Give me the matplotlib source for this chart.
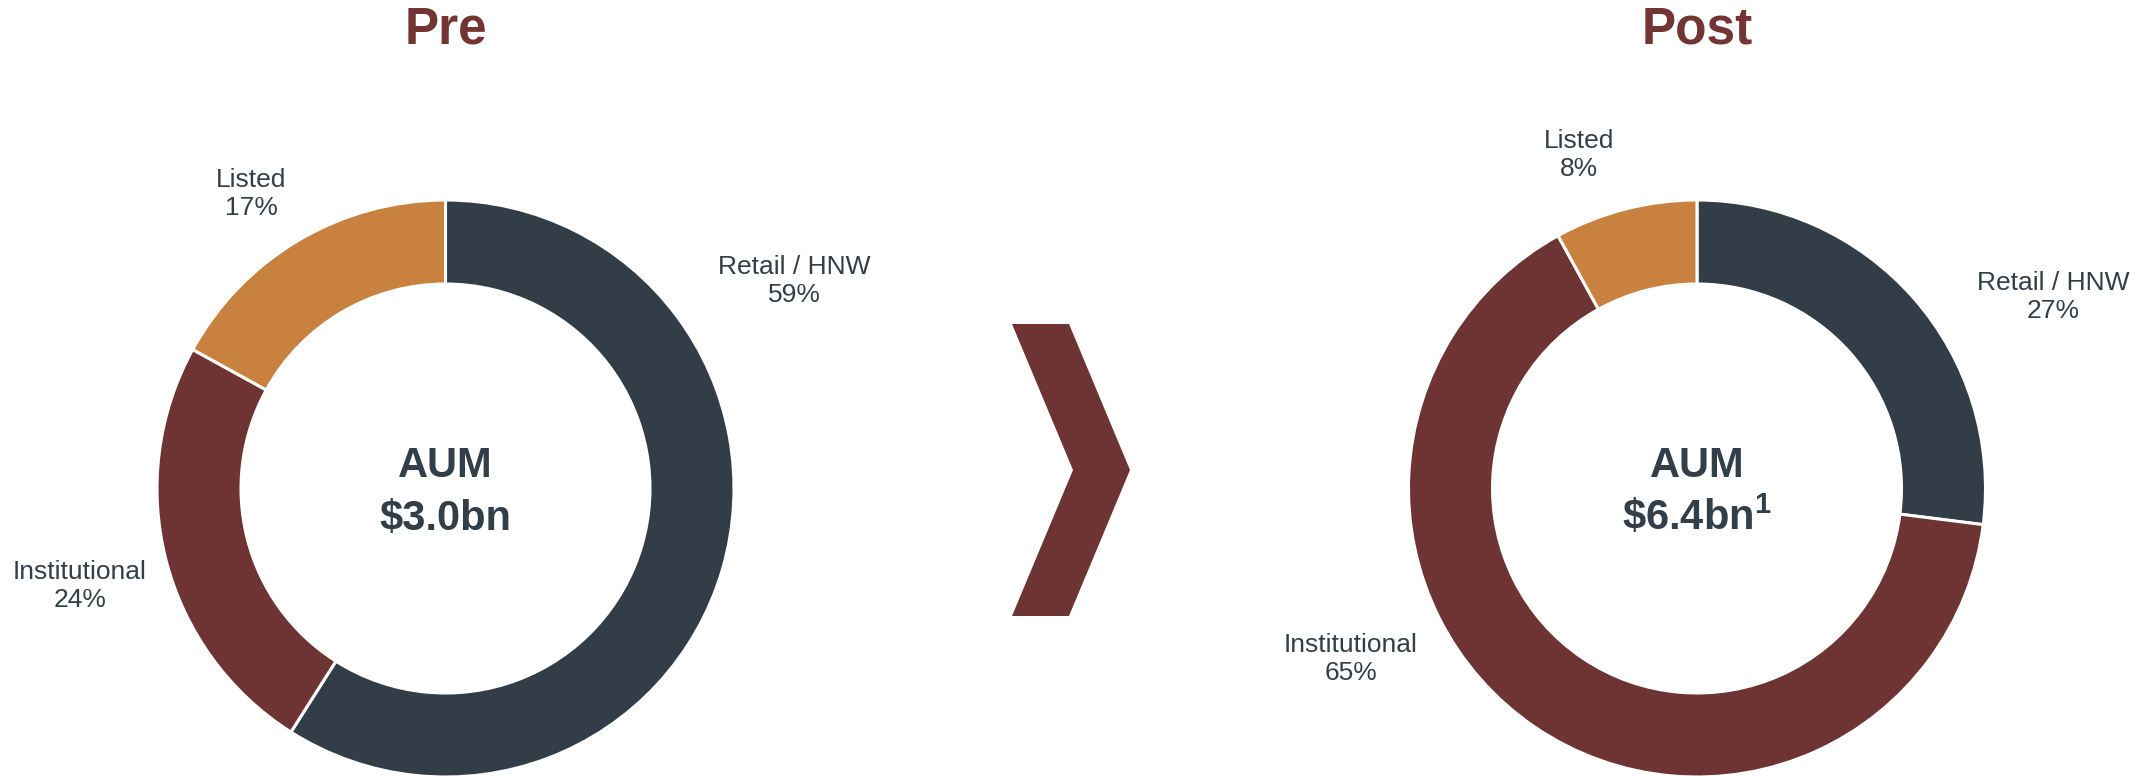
import matplotlib
matplotlib.use("Agg")
import matplotlib.pyplot as plt
from matplotlib.patches import Polygon

plt.rcParams['font.family'] = ['Liberation Sans', 'DejaVu Sans']
plt.rcParams['mathtext.fontset'] = 'custom'
plt.rcParams['mathtext.rm'] = 'Liberation Sans'
plt.rcParams['mathtext.bf'] = 'Liberation Sans:bold'

# ---- data ----
categories = ["Retail / HNW", "Institutional", "Listed"]
pre_values = [59, 24, 17]
post_values = [27, 65, 8]
titles = ["Pre", "Post"]
center_top = ["AUM", "AUM"]
center_bottom = [r"\$3.0bn", r"\$6.4bn$^{\mathbf{1}}$"]

colors = ["#333D47", "#6E3333", "#C8813F"]
title_color = "#733434"
text_color = "#333F48"

W, H = 2153, 779
fig = plt.figure(figsize=(W / 100, H / 100), dpi=100)
ax = fig.add_axes([0, 0, 1, 1])

R = 288.5
ring = 84
centers = [(445.5, H - 488.5), (1697, H - 488.5)]

# label positions (pixel coords, top-origin) per donut, per category
label_pos = [
    [(794, 281), (80, 586), (251, 194)],
    [(2053, 297), (1351, 659), (1579, 155)],
]

for i, vals in enumerate([pre_values, post_values]):
    cx, cy = centers[i]
    ax.pie(vals, colors=colors, startangle=90, counterclock=False,
           radius=R, center=(cx, cy),
           wedgeprops=dict(width=ring, edgecolor="white", linewidth=2.2))
    ax.text(cx, H - 30, titles[i], ha="center", va="center", fontsize=37,
            fontweight="bold", color=title_color)
    ax.text(cx, H - 466, center_top[i], ha="center", va="center", fontsize=30,
            fontweight="bold", color=text_color)
    ax.text(cx, H - 530, center_bottom[i], ha="center", va="baseline", fontsize=30,
            fontweight="bold", color=text_color)
    for j, cat in enumerate(categories):
        lx, ly = label_pos[i][j]
        ax.text(lx, H - ly, f"{cat}\n{vals[j]}%", ha="center", va="center",
                fontsize=19, color=text_color, linespacing=1.2)

# chevron arrow between the donuts
chev = [(1012, 324), (1069, 324), (1130, 470), (1069, 616), (1012, 616), (1073, 470)]
ax.add_patch(Polygon([(x, H - y) for x, y in chev], closed=True,
                     facecolor="#6E3333", edgecolor="none"))

ax.set_xlim(0, W)
ax.set_ylim(0, H)
ax.set_aspect("auto")
ax.axis("off")

fig.savefig("out.png", dpi=100, facecolor="white")
